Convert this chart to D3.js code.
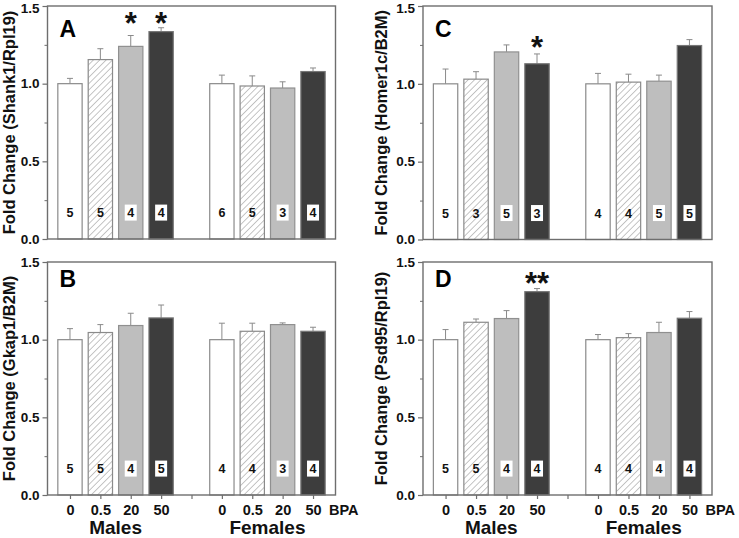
<!DOCTYPE html>
<html><head><meta charset="utf-8">
<script src="https://cdn.jsdelivr.net/npm/d3@7"></script>
<style>html,body{margin:0;padding:0;background:#fff;}svg{display:block;font-family:"Liberation Sans",Arial,sans-serif;font-weight:bold;}</style>
</head><body><svg id="chart" width="739" height="538"></svg>
<script>
// ---- data ----
const doses = ["0", "0.5", "20", "50"];
const sexes = ["Males", "Females"];
const yTicks = [0, 0.5, 1.0, 1.5];
const panelLetters = ["A", "B", "C", "D"];
const yTitles = ["Fold Change (Shank1/Rpl19)", "Fold Change (Gkap1/B2M)", "Fold Change (Homer1c/B2M)", "Fold Change (Psd95/Rpl19)"];
// bars: males 0,0.5,20,50 then females 0,0.5,20,50
const meansA = [1.00, 1.155, 1.24, 1.335, 1.00, 0.985, 0.972, 1.078];
const semA   = [0.034, 0.07, 0.07, 0.025, 0.055, 0.065, 0.04, 0.023];
const nA     = [5, 5, 4, 4, 6, 5, 3, 4];
const sigA   = ["", "", "*", "*", "", "", "", ""];
const meansB = [1.00, 1.046, 1.091, 1.14, 1.00, 1.054, 1.097, 1.054];
const semB   = [0.071, 0.051, 0.079, 0.083, 0.106, 0.052, 0.011, 0.026];
const nB     = [5, 5, 4, 5, 4, 4, 3, 4];
const sigB   = ["", "", "", "", "", "", "", ""];
const meansC = [1.00, 1.03, 1.205, 1.129, 1.00, 1.011, 1.017, 1.246];
const semC   = [0.095, 0.048, 0.045, 0.063, 0.067, 0.051, 0.039, 0.038];
const nC     = [5, 3, 5, 3, 4, 4, 5, 5];
const sigC   = ["", "", "", "*", "", "", "", ""];
const meansD = [1.00, 1.112, 1.136, 1.309, 1.00, 1.013, 1.046, 1.138];
const semD   = [0.065, 0.021, 0.051, 0.02, 0.033, 0.026, 0.066, 0.043];
const nD     = [5, 5, 4, 4, 4, 4, 4, 4];
const sigD   = ["", "", "", "**", "", "", "", ""];
const sigLevel = [1.42, null, 1.27, 1.40];

const panels = [
  {letter: panelLetters[0], title: yTitles[0], means: meansA, sem: semA, n: nA, sig: sigA, sigY: sigLevel[0]},
  {letter: panelLetters[1], title: yTitles[1], means: meansB, sem: semB, n: nB, sig: sigB, sigY: sigLevel[1]},
  {letter: panelLetters[2], title: yTitles[2], means: meansC, sem: semC, n: nC, sig: sigC, sigY: sigLevel[2]},
  {letter: panelLetters[3], title: yTitles[3], means: meansD, sem: semD, n: nD, sig: sigD, sigY: sigLevel[3]}
];
// layout
const boxes = [
  {x0: 47.5, x1: 335.5, y0: 6, y1: 239, titleX: 9.5, letterDy: 31, bottom: false},
  {x0: 47.5, x1: 335.5, y0: 262, y1: 495, titleX: 9.5, letterDy: 25, bottom: true},
  {x0: 423, x1: 712, y0: 6, y1: 239.5, titleX: 381, letterDy: 31, bottom: false},
  {x0: 423, x1: 712, y0: 262, y1: 495, titleX: 381, letterDy: 25, bottom: true}
];
const fills = ["#ffffff", "url(#hatch)", "#bebebe", "#3d3d3d"];
const strokes = ["#8a8a8a", "#8a8a8a", "#909090", "#777777"];
const frameColor = "#6e6e6e";

const svg = d3.select("#chart");
const defs = svg.append("defs");
const pat = defs.append("pattern").attr("id", "hatch").attr("patternUnits", "userSpaceOnUse")
  .attr("width", 4.5).attr("height", 4.5).attr("patternTransform", "rotate(45)");
pat.append("rect").attr("width", 4.5).attr("height", 4.5).attr("fill", "#fff");
pat.append("line").attr("x1", 0).attr("y1", 0).attr("x2", 0).attr("y2", 4.5)
  .attr("stroke", "#808080").attr("stroke-width", 0.9);

// slot index: 0-3 males, 4 gap, 5-8 females
const slotOf = i => i < 4 ? i : i + 1;

panels.forEach((p, pi) => {
  const b = boxes[pi];
  const g = svg.append("g");
  const x = d3.scaleLinear().domain([-0.74, 8.74]).range([b.x0, b.x1]);
  const y = d3.scaleLinear().domain([0, 1.5]).range([b.y1, b.y0]);
  const slotW = x(1) - x(0);
  const bw = slotW * 0.8;

  const data = p.means.map((m, i) => ({m, s: p.sem[i], n: p.n[i], sig: p.sig[i], dose: i % 4, slot: slotOf(i)}));
  // error bars (upper only)
  data.forEach(d => {
    const cx = x(d.slot);
    g.append("line").attr("x1", cx).attr("x2", cx).attr("y1", y(d.m)).attr("y2", y(d.m + d.s))
      .attr("stroke", "#8a8a8a").attr("stroke-width", 1);
    g.append("line").attr("x1", cx - 3).attr("x2", cx + 3).attr("y1", y(d.m + d.s)).attr("y2", y(d.m + d.s))
      .attr("stroke", "#8a8a8a").attr("stroke-width", 1);
  });
  g.selectAll("rect.bar").data(data).join("rect").attr("class", "bar")
    .attr("x", d => x(d.slot) - bw / 2).attr("width", bw)
    .attr("y", d => y(d.m)).attr("height", d => y(0) - y(d.m))
    .attr("fill", d => fills[d.dose]).attr("stroke", d => strokes[d.dose]).attr("stroke-width", 1.2);

  // n labels
  data.forEach(d => {
    const cx = x(d.slot), cy = y(0.17);
    if (d.dose >= 2) {
      g.append("rect").attr("x", cx - 6).attr("y", cy - 8).attr("width", 12).attr("height", 16).attr("fill", "#fff");
    }
    g.append("text").attr("x", cx).attr("y", cy + 4.5).attr("text-anchor", "middle")
      .attr("font-size", 12.5).attr("fill", "#111").text(d.n);
    if (d.sig) {
      g.append("text").attr("x", cx).attr("y", y(p.sigY) + 16).attr("text-anchor", "middle")
        .attr("font-size", 31).attr("fill", "#111").text(d.sig);
    }
  });

  // frame
  g.append("rect").attr("x", b.x0).attr("y", b.y0).attr("width", b.x1 - b.x0).attr("height", b.y1 - b.y0)
    .attr("fill", "none").attr("stroke", frameColor).attr("stroke-width", 1.4);

  // y axis
  const yAx = g.append("g").attr("transform", `translate(${b.x0},0)`)
    .call(d3.axisLeft(y).tickValues(yTicks).tickFormat(d3.format(".1f")).tickSize(5).tickPadding(3));
  yAx.select(".domain").remove();
  yAx.selectAll(".tick line").attr("stroke", frameColor).attr("stroke-width", 1.2);
  yAx.selectAll(".tick text").attr("font-size", 13.5).attr("font-weight", "bold").attr("fill", "#111")
    .attr("font-family", "Liberation Sans, Arial, sans-serif");
  // keep the top label inside the picture
  yAx.selectAll(".tick text").filter(d => y(d) < 10).attr("dy", "0.5em");
  const yMinor = g.append("g").attr("transform", `translate(${b.x0},0)`)
    .call(d3.axisLeft(y).tickValues([0.25, 0.75, 1.25]).tickFormat("").tickSize(3));
  yMinor.select(".domain").remove();
  yMinor.selectAll(".tick line").attr("stroke", frameColor).attr("stroke-width", 1);

  // y title
  g.append("text").attr("transform", `translate(${b.titleX + 5.5},${(b.y0 + b.y1) / 2}) rotate(-90)`)
    .attr("text-anchor", "middle").attr("font-size", 16.5).attr("fill", "#111").text(p.title);

  // panel letter
  g.append("text").attr("x", b.x0 + 12).attr("y", b.y0 + b.letterDy).attr("font-size", 23)
    .attr("fill", "#000").text(p.letter);

  if (b.bottom) {
    const xAx = g.append("g").attr("transform", `translate(0,${b.y1})`)
      .call(d3.axisBottom(x).tickValues(d3.range(9)).tickFormat(i => i === 4 ? "" : doses[i < 4 ? i : i - 5])
        .tickSize(4).tickPadding(6));
    xAx.select(".domain").remove();
    xAx.selectAll(".tick line").attr("stroke", frameColor).attr("stroke-width", 1.2);
    xAx.selectAll(".tick text").attr("font-size", 14.5).attr("font-weight", "bold").attr("fill", "#111")
      .attr("font-family", "Liberation Sans, Arial, sans-serif");
    g.append("text").attr("x", x(8) + 16).attr("y", b.y1 + 20).attr("font-size", 14.5).attr("fill", "#111").text("BPA");
    sexes.forEach((s, si) => {
      g.append("text").attr("x", x(si * 5 + 1.5)).attr("y", b.y1 + 39).attr("text-anchor", "middle")
        .attr("font-size", 19).attr("fill", "#111").text(s);
    });
  }
});
</script></body></html>
